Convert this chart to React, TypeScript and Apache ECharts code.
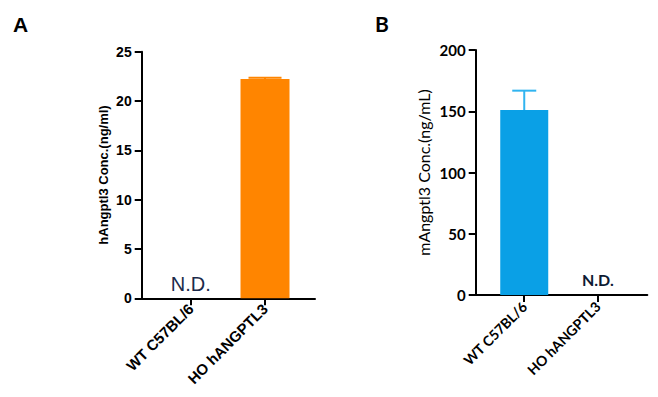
import React, { useEffect, useRef } from "react";
import * as echarts from "echarts";

const categories = ["WT C57BL/6", "HO hANGPTL3"];
const hAngptl3Values = [0, 22.23];
const hAngptl3Errors = [0, 0.12];
const mAngptl3Values = [151, 0];
const mAngptl3Errors = [15.8, 0];
const hAxis = { min: 0, max: 25, interval: 5 };
const mAxis = { min: 0, max: 200, interval: 50 };

const ARIAL = "Liberation Sans";
const CALIBRI = "Lato";

function errorSeries(values: number[], errs: number[], axisIdx: number, color: string, capW: number) {
  return {
    type: "custom",
    xAxisIndex: axisIdx,
    yAxisIndex: axisIdx,
    z: 3,
    data: values.map((v, i) => [i, v, v + errs[i], errs[i]]),
    renderItem: (params: any, api: any) => {
      if (api.value(3) === 0) return null;
      const top = api.coord([api.value(0), api.value(2)]);
      const base = api.coord([api.value(0), api.value(1)]);
      const st = { stroke: color, lineWidth: 2 };
      return {
        type: "group",
        children: [
          { type: "line", shape: { x1: top[0], y1: top[1], x2: base[0], y2: base[1] }, style: st },
          { type: "line", shape: { x1: top[0] - capW / 2, y1: top[1], x2: top[0] + capW / 2, y2: top[1] }, style: st },
        ],
      };
    },
  };
}

export default function App() {
  const ref = useRef<HTMLDivElement>(null);
  useEffect(() => {
    if (!ref.current) return;
    const chart = echarts.init(ref.current, undefined, { renderer: "svg" });
    const mkX = (idx: number, font: string, size: number, margin: number) => ({
      type: "value",
      gridIndex: idx,
      min: -0.66,
      max: 1.673,
      splitLine: { show: false },
      axisLine: { show: true, onZero: false, lineStyle: { color: "#000", width: 2 } },
      axisTick: { show: true, length: 7, lineStyle: { color: "#000", width: 2 }, customValues: [0, 1] },
      axisLabel: {
        customValues: [0, 1],
        rotate: 45,
        margin,
        fontFamily: font,
        fontWeight: "bold",
        fontSize: size,
        color: "#000",
        formatter: (v: number) => categories[Math.round(v)] ?? "",
      },
    });
    const mkY = (idx: number, ax: any, name: string, font: string, size: number, nameSize: number, nameWeight: string, nameGap: number) => ({
      type: "value",
      gridIndex: idx,
      min: ax.min,
      max: ax.max,
      interval: ax.interval,
      name,
      nameLocation: "middle",
      nameGap,
      nameTextStyle: { fontFamily: font, fontSize: nameSize, fontWeight: nameWeight, color: "#000" },
      splitLine: { show: false },
      axisLine: { show: true, onZero: false, lineStyle: { color: "#000", width: 2 } },
      axisTick: { show: true, length: 7, lineStyle: { color: "#000", width: 2 } },
      axisLabel: { margin: 10, fontFamily: font, fontWeight: "bold", fontSize: size, color: "#000" },
    });
    chart.setOption({
      animation: false,
      backgroundColor: "#fff",
      grid: [
        { left: 141.7, top: 51.7, width: 173.3, height: 246.6 },
        { left: 475.7, top: 50, width: 171.6, height: 245 },
      ],
      xAxis: [mkX(0, ARIAL, 15, 8), mkX(1, CALIBRI, 14, 9)],
      yAxis: [
        mkY(0, hAxis, "hAngptl3 Conc.(ng/ml)", ARIAL, 14, 13, "bold", 32),
        mkY(1, mAxis, "mAngptl3 Conc.(ng/mL)", CALIBRI, 15, 16, "normal", 44),
      ],
      graphic: [
        { type: "text", left: 13, top: 14, style: { text: "A", font: `bold 21px "${ARIAL}"`, fill: "#000" } },
        { type: "text", left: 375, top: 13, style: { text: "B", font: `bold 21px "${CALIBRI}"`, fill: "#000" } },
      ],
      series: [
        {
          type: "bar",
          xAxisIndex: 0,
          yAxisIndex: 0,
          barWidth: 49,
          itemStyle: { color: "#ff8500" },
          data: hAngptl3Values.map((v, i) => [i, v]),
          label: {
            show: true,
            position: "top",
            distance: 4,
            fontFamily: ARIAL,
            fontSize: 20,
            color: "#1c2a4a",
            formatter: (p: any) => (p.data[1] === 0 ? "N.D." : ""),
          },
        },
        errorSeries(hAngptl3Values, hAngptl3Errors, 0, "#ff8500", 33),
        {
          type: "bar",
          xAxisIndex: 1,
          yAxisIndex: 1,
          barWidth: 48,
          itemStyle: { color: "#0aa0e6" },
          data: mAngptl3Values.map((v, i) => [i, v]),
          label: {
            show: true,
            position: "top",
            distance: 8,
            fontFamily: CALIBRI,
            fontWeight: "bold",
            fontSize: 16,
            color: "#0e1a33",
            formatter: (p: any) => (p.data[1] === 0 ? "N.D." : ""),
          },
        },
        errorSeries(mAngptl3Values, mAngptl3Errors, 1, "#30b4f0", 24),
      ],
    });
    return () => chart.dispose();
  }, []);
  return <div ref={ref} style={{ position: "fixed", left: 0, top: 0, width: 658, height: 397 }} />;
}
